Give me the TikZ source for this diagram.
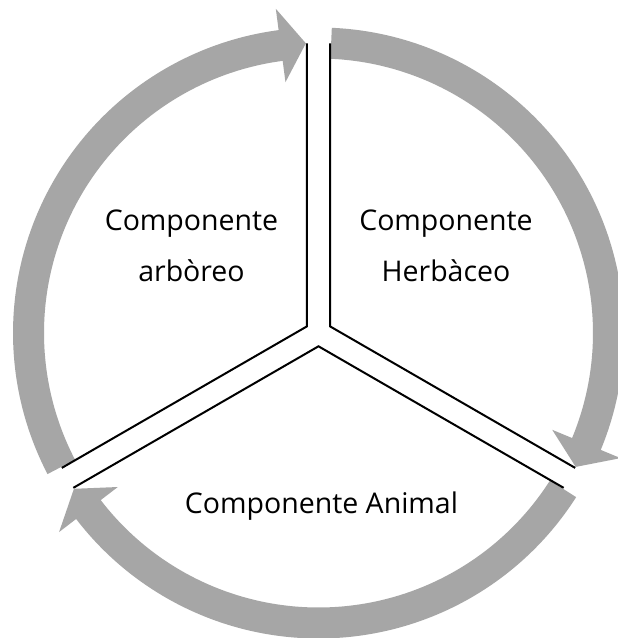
\documentclass[tikz,border=0pt]{standalone}
\usepackage{fontspec}
\setmainfont{Open Sans}
\usetikzlibrary{calc}
\definecolor{ringgray}{HTML}{A6A6A6}
\tikzset{
  ringfill/.style={fill=ringgray},
  sepline/.style={line width=2pt, line join=miter},
  lbl/.style={font=\fontsize{28.5}{36}\selectfont, inner sep=0pt, anchor=base}
}
\newcommand\cyclearrow[3]{%
  \fill[ringfill] (#1:305.5) arc[start angle=#1, end angle=#2, radius=305.5]
    -- (#2:327) -- (#3:290) -- (#2:253) -- (#2:274.5)
    arc[start angle=#2, end angle=#1, radius=274.5] -- cycle;}
\begin{document}
\begin{tikzpicture}[x=1pt,y=1pt]
\useasboundingbox (-318.5,-305) rectangle (299.5,333);
\clip (-318.5,-305) rectangle (299.5,333);
\fill[white] (-318.5,-305) rectangle (299.5,333);
% gray cycle arrows
\cyclearrow{87.5}{-22.5}{-27.5}
\cyclearrow{-32.5}{-142.5}{-147.5}
\cyclearrow{207.5}{97.5}{92.5}
% sector separators
\coordinate (c) at (0,0);
\coordinate (vul) at (150:13.3);
\coordinate (vur) at (30:13.3);
\coordinate (vb) at (270:13.3);
\coordinate (ul1) at ($(vul)+(90:283.1)$);
\coordinate (ul2) at ($(vul)+(210:283.1)$);
\coordinate (ur1) at ($(vur)+(90:283.1)$);
\coordinate (ur2) at ($(vur)+(330:283.1)$);
\coordinate (b1) at ($(vb)+(210:283.1)$);
\coordinate (b2) at ($(vb)+(330:283.1)$);
\draw[sepline] (ul1) -- (vul) -- (ul2);
\draw[sepline] (ur1) -- (vur) -- (ur2);
\draw[sepline] (b1) -- (vb) -- (b2);
% labels
\node[lbl] (arbA) at (-127,103) {Componente};
\node[lbl] (arbB) at (-127,51.3) {arbòreo};
\node[lbl] (herA) at (127.5,103) {Componente};
\node[lbl] (herB) at (127.5,51.3) {Herbàceo};
\node[lbl] (ani) at (3,-180) {Componente Animal};
\end{tikzpicture}
\end{document}
